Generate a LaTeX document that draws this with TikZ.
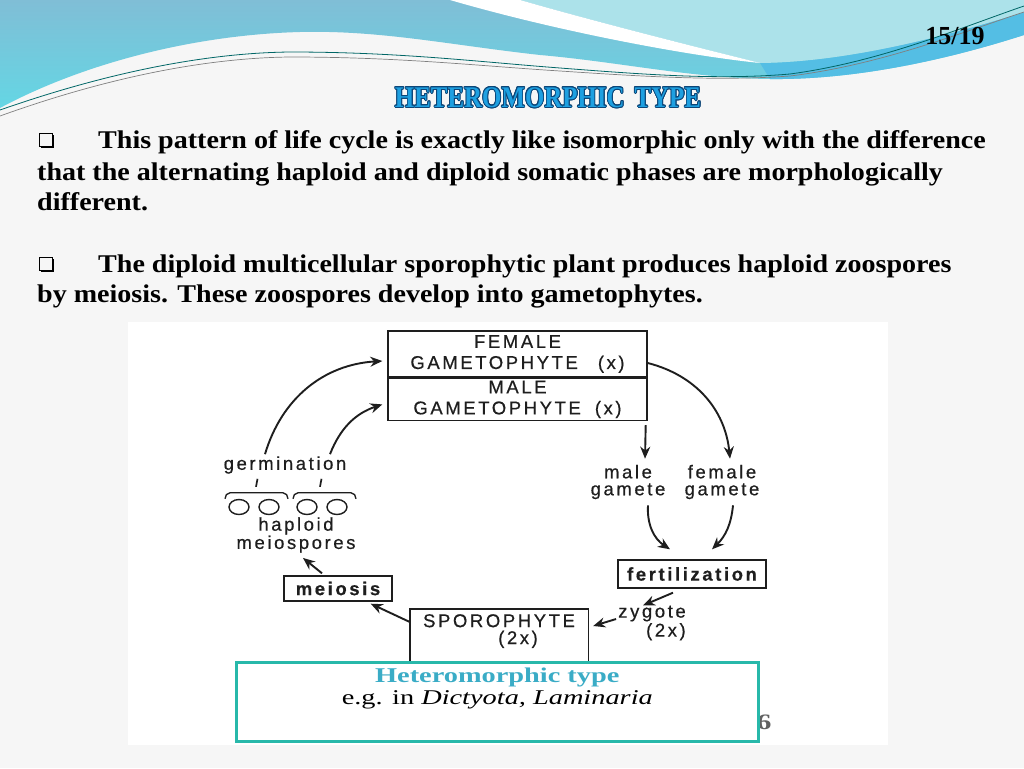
\documentclass[tikz,border=0pt]{standalone}
\usepackage{fontspec}
\usepackage[copies]{contour}
\contourlength{0.9pt}
\setmainfont{Liberation Serif}
\newfontfamily\bodyfont[FakeStretch=1.1]{Liberation Serif}
\newfontfamily\titlefont[FakeStretch=0.83]{Liberation Serif}
\newfontfamily\figfont[LetterSpace=14,FakeBold=0.5]{Liberation Sans}
\newfontfamily\capfont[FakeStretch=1.35]{Liberation Serif}
\usetikzlibrary{arrows.meta,shapes.geometric,shadows}
\definecolor{hdrtop}{RGB}{128,190,214}
\definecolor{hdrbot}{RGB}{100,214,228}
\definecolor{hdrlight}{RGB}{172,226,234}
\definecolor{hdrdeep}{RGB}{84,190,228}
\definecolor{titleblue}{RGB}{30,160,225}
\definecolor{titledark}{RGB}{12,70,120}
\definecolor{slidebg}{RGB}{246,246,246}
\definecolor{boxteal}{RGB}{40,184,170}
\definecolor{capblue}{RGB}{58,172,198}
\definecolor{ink}{RGB}{30,30,30}

\begin{document}
\begin{tikzpicture}[x=1pt,y=1pt,
    txt/.style={anchor=base west,inner sep=0pt,font=\bodyfont\bfseries\fontsize{25.5}{31}\selectfont},
    bullet/.style={draw,fill=slidebg,line width=1.3pt,minimum size=13pt,inner sep=0pt,
      drop shadow={shadow xshift=1.6pt,shadow yshift=-1.6pt,opacity=1,fill=black}},
    lbl/.style={font=\figfont\fontsize{18.5}{17}\selectfont,text=ink,align=center,inner sep=2pt},
    box/.style={lbl,draw=ink,line width=1.4pt,font=\figfont\fontsize{18.5}{21}\selectfont},
    boldbox/.style={box,font=\figfont\bfseries\fontsize{18.5}{21}\selectfont},
    spore/.style={ellipse,draw=ink,line width=1.4pt,minimum width=20pt,minimum height=15pt,inner sep=0pt},
    arr/.style={every edge/.style={draw=ink,line width=1.9pt,-{Stealth[length=12pt,width=10pt]}}}]
  \useasboundingbox (0,0) rectangle (1024,-768);
  \fill[slidebg] (0,0) rectangle (1024,-768);
  \shade[top color=hdrtop,bottom color=hdrbot] (0,0) -- (1024,0) -- (1024,-35)
    .. controls (940,-62) and (850,-80) .. (770,-79)
    .. controls (690,-78) and (620,-62) .. (540,-55)
    .. controls (450,-45) and (380,-30) .. (300,-32)
    .. controls (190,-35) and (80,-65) .. (0,-108) -- cycle;
  \fill[hdrdeep] (760,-63) .. controls (850,-62) and (950,-35) .. (1024,-12) -- (1024,-35)
    .. controls (940,-62) and (850,-80) .. (770,-79) -- cycle;
  \fill[hdrlight] (520,0) -- (1024,0) -- (1024,-12)
    .. controls (950,-35) and (850,-62) .. (760,-63)
    .. controls (700,-48) and (600,-23) .. (520,0) -- cycle;
  \fill[white] (450,0) -- (520,0) .. controls (600,-23) and (700,-48) .. (760,-63)
    .. controls (690,-56) and (560,-32) .. (450,0) -- cycle;
  \draw[teal!80!black,line width=0.8pt] (0,-110) .. controls (100,-75) and (200,-53) .. (290,-52)
    .. controls (400,-52) and (480,-62) .. (560,-68) .. controls (650,-75) and (720,-80) .. (790,-74)
    .. controls (880,-62) and (960,-28) .. (1024,-6);
  \draw[gray,line width=0.7pt] (0,-116) .. controls (100,-80) and (200,-58) .. (290,-57)
    .. controls (400,-57) and (480,-66) .. (560,-71) .. controls (650,-77) and (720,-81) .. (790,-76)
    .. controls (880,-65) and (960,-33) .. (1024,-12);

  \node[font=\bfseries\fontsize{26}{26}\selectfont] (pgno) at (955,-36) {15/19};
  \node[font=\titlefont\bfseries\fontsize{30}{30}\selectfont,text=titleblue] (ttl) at (548,-98)
    {\contour{titledark}{HETEROMORPHIC\hspace{10pt}TYPE}};

  \node[bullet] (b1) at (46,-140) {};
  \node[txt] (l1) at (98,-148) {This pattern of life cycle is exactly like isomorphic only with the difference};
  \node[txt] (l2) at (37,-180) {that the alternating haploid and diploid somatic phases are morphologically};
  \node[txt] (l3) at (37,-210) {different.};
  \node[bullet] (b2) at (46,-264) {};
  \node[txt] (l4) at (98,-272) {The diploid multicellular sporophytic plant produces haploid zoospores};
  \node[txt] (l5) at (37,-302) {by meiosis. These zoospores develop into gametophytes.};

  \fill[white] (128,-322) rectangle (888,-745);

  \node[box,minimum width=259pt,minimum height=46pt] (fgam) at (517.5,-354)
    {FEMALE\\GAMETOPHYTE\hspace{20pt}(x)};
  \node[box,minimum width=259pt,minimum height=42pt,anchor=north] (mgam) at (fgam.south)
    {MALE\\GAMETOPHYTE\hspace{14pt}(x)};
  \node[lbl] (mg) at (628,-482) {male\\gamete};
  \node[lbl] (fg) at (722,-482) {female\\gamete};
  \node[boldbox,minimum width=148pt,minimum height=28pt] (fert) at (692,-574) {fertilization};
  \node[lbl,align=right,font=\figfont\fontsize{18.5}{19}\selectfont] (zyg) at (652,-623) {zygote\\(2x)};
  \node[lbl,anchor=north,minimum width=178pt,inner ysep=5pt] (spo) at (499,-609)
    {SPOROPHYTE\\\hspace{38pt}(2x)};
  \node[boldbox,minimum width=108pt,minimum height=25pt] (mei) at (338,-588.5) {meiosis};
  \foreach \i/\x in {1/239,2/269,3/307,4/337}
    \node[spore] (s\i) at (\x,-507) {};
  \node[lbl] (hms) at (296,-535) {haploid\\meiospores};
  \node[lbl] (germ) at (285,-465) {germination};

  \draw[ink,line width=1.4pt] ([yshift=-8pt]spo.south west) -- (spo.north west)
    -- (spo.north east) -- ([yshift=-8pt]spo.south east);
  \draw[ink,line width=1.3pt] ([xshift=-14pt]s1.north) to[out=90,in=180] ++(5pt,6pt)
    -- ([xshift=14pt,yshift=6pt]s2.north) to[out=0,in=90] ++(5pt,-6pt);
  \draw[ink,line width=1.3pt] ([xshift=-14pt]s3.north) to[out=90,in=180] ++(5pt,6pt)
    -- ([xshift=14pt,yshift=6pt]s4.north) to[out=0,in=90] ++(5pt,-6pt);
  \draw[ink,line width=1.7pt] ([xshift=17pt,yshift=12pt]s1.north) -- ++(1.5pt,8pt);
  \draw[ink,line width=1.7pt] ([xshift=13pt,yshift=12pt]s3.north) -- ++(1.5pt,8pt);

  \path[arr]
    ([xshift=-20pt]germ.north) edge[bend left=35] ([xshift=-5pt,yshift=-7pt]fgam.west)
    ([xshift=45pt]germ.north) edge[bend left=25] ([xshift=-5pt,yshift=-5pt]mgam.west)
    ([xshift=-2pt,yshift=-4pt]mgam.south east) edge ([xshift=17pt,yshift=4pt]mg.north)
    ([yshift=-9pt]fgam.east) edge[bend left=35] ([xshift=8pt,yshift=4pt]fg.north)
    ([xshift=20pt,yshift=-4pt]mg.south) edge[bend right=30] ([xshift=-22pt,yshift=10pt]fert.north)
    ([xshift=11pt,yshift=-4pt]fg.south) edge[bend left=20] ([xshift=20pt,yshift=10pt]fert.north)
    ([xshift=-19pt,yshift=-4pt]fert.south) edge ([xshift=-9pt,yshift=-2pt]zyg.north)
    ([yshift=4pt]zyg.west) edge ([xshift=5pt,yshift=-17pt]spo.north east)
    ([yshift=-13pt]spo.north west) edge ([xshift=-22pt,yshift=-2pt]mei.south east)
    ([xshift=-16pt,yshift=2pt]mei.north) edge ([xshift=7pt,yshift=-3pt]hms.south);

  \node[font=\capfont\bfseries\fontsize{22}{22}\selectfont,text=ink!70] (pg) at (764,-722) {6};
  \node[draw=boxteal,line width=2.6pt,fill=white,minimum width=522pt,minimum height=79pt,
    anchor=north west] (cap) at (235,-661) {};
  \node[anchor=north,align=center,font=\capfont\fontsize{21}{22}\selectfont] (capt)
    at ([yshift=-3pt]cap.north)
    {\textcolor{capblue}{\bfseries Heteromorphic type}\\e.g. in \textit{Dictyota, Laminaria}};
\end{tikzpicture}
\end{document}
